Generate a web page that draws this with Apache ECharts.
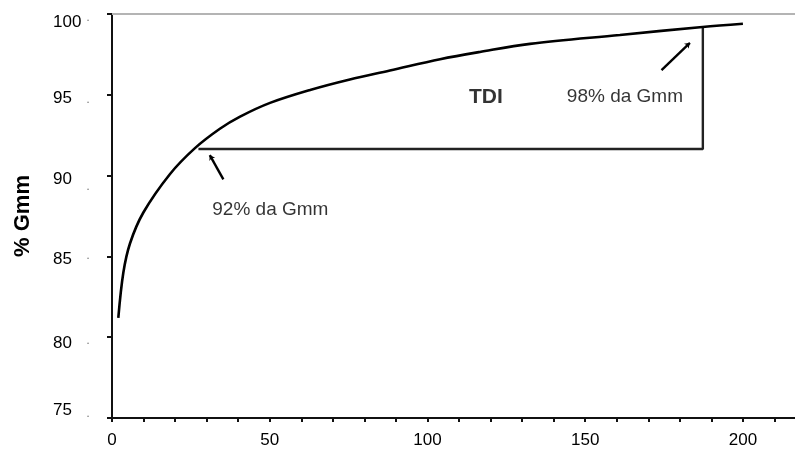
<!DOCTYPE html>
<html>
<head>
<meta charset="utf-8">
<script src="https://cdn.jsdelivr.net/npm/echarts@6/dist/echarts.min.js"></script>
<style>html,body{margin:0;padding:0;background:#fff}#c{width:795px;height:452px}</style>
</head>
<body>
<div id="c"></div>
<script>
// Compaction curve (% Gmm vs number of gyrations)
var curveX = [2, 3.6, 5.7, 9.9, 18.4, 26.3, 34.2, 40.6, 50.1, 62.8, 75.4, 88.1, 104, 116.6, 132.5, 161, 187.2, 200];
var curveY = [81.2, 84.0, 85.8, 87.7, 90.1, 91.7, 92.9, 93.65, 94.5, 95.3, 95.95, 96.5, 97.2, 97.65, 98.15, 98.7, 99.2, 99.4];
// TDI bracket (92% -> 98%)
var bracketX = [27.4, 187.3, 187.3];
var bracketY = [91.65, 91.65, 99.2];
// arrows [fromX, fromY, toX, toY]
var arrow92 = [35.3, 89.77, 31.0, 91.27];
var arrow98 = [174.2, 96.53, 183.2, 98.22];
// annotations
var annoText = ['TDI', '98% da Gmm', '92% da Gmm'];
var annoX = [118.5, 162.6, 50.2];
var annoY = [94.86, 94.86, 87.91];
var annoBold = [true, false, false];
// axis ticks
var yTicks = [75, 80, 85, 90, 95, 100];
var xLabels = [0, 50, 100, 150, 200];

var chart = echarts.init(document.getElementById('c'));
var FONT = 'Liberation Sans';

function zip(a, b) { return a.map(function (v, i) { return [v, b[i]]; }); }
function padFor(s) { return s >= 0 ? [2 * s, 0, 0, 0] : [0, 0, -2 * s, 0]; }

// per-label small vertical shifts seen in the scanned original (label text, gray dot)
var yShift = { 75: -8, 80: 6, 85: 3, 90: 4, 95: 4, 100: 8 };
var dotShift = { 75: -2, 80: 6, 85: 2, 90: 14, 95: 8, 100: 6 };
var yRich = {};
yTicks.forEach(function (t) {
  yRich['v' + t] = { fontSize: 17, color: '#000', fontFamily: FONT, width: 34, align: 'left', padding: padFor(yShift[t]) };
  yRich['d' + t] = { fontSize: 6, color: '#888', fontFamily: FONT, padding: padFor(dotShift[t]) };
});

var option = {
  animation: false,
  grid: { left: 112, top: 14, bottom: 34, width: 694, containLabel: false, outerBoundsMode: 'none' },
  xAxis: [{
    type: 'value', min: 0, max: 220, interval: 10, position: 'bottom',
    axisLine: { lineStyle: { color: '#111', width: 2 } },
    axisTick: { show: true, length: 4, inside: false, lineStyle: { color: '#111', width: 2 } },
    axisLabel: {
      margin: 14, fontSize: 17, color: '#000', fontFamily: FONT,
      formatter: function (v) { return xLabels.indexOf(v) >= 0 ? String(v) : ''; }
    },
    splitLine: { show: false }
  }, {
    type: 'value', min: 0, max: 220, position: 'top',
    axisLine: { show: true, lineStyle: { color: '#b4b4b4', width: 2 } },
    axisTick: { show: false }, axisLabel: { show: false }, splitLine: { show: false }
  }],
  yAxis: {
    type: 'value', min: 75, max: 100, interval: 5,
    name: '% Gmm', nameLocation: 'middle', nameGap: 78, nameRotate: 90,
    nameTextStyle: { fontSize: 22, fontWeight: 'bold', color: '#000', fontFamily: FONT },
    axisLine: { show: true, lineStyle: { color: '#111', width: 2 } },
    axisTick: { show: true, length: 5, lineStyle: { color: '#111', width: 2 } },
    axisLabel: {
      margin: 59, align: 'left',
      formatter: function (v) { return yTicks.indexOf(v) >= 0 ? '{v' + v + '|' + v + '}{d' + v + '|•}' : ''; },
      rich: yRich
    },
    splitLine: { show: false }
  },
  series: [{
    type: 'line', data: zip(curveX, curveY), smooth: 0.35, showSymbol: false,
    lineStyle: { color: '#000', width: 2.6 }, z: 5
  }, {
    type: 'line', data: zip(bracketX, bracketY), showSymbol: false,
    lineStyle: { color: '#222', width: 2.4 }, z: 4
  }, {
    type: 'lines', coordinateSystem: 'cartesian2d', z: 6,
    symbol: ['none', 'arrow'], symbolSize: 5,
    lineStyle: { color: '#000', width: 2.4, opacity: 1 },
    data: [
      { coords: [[arrow92[0], arrow92[1]], [arrow92[2], arrow92[3]]] },
      { coords: [[arrow98[0], arrow98[1]], [arrow98[2], arrow98[3]]] }
    ]
  }, {
    type: 'scatter', symbolSize: 0, z: 7,
    data: annoText.map(function (t, i) {
      return {
        value: [annoX[i], annoY[i]],
        label: {
          show: true, position: 'inside', formatter: t,
          fontFamily: FONT, color: '#000',
          fontSize: annoBold[i] ? 21 : 19,
          fontWeight: annoBold[i] ? 'bold' : 'normal'
        }
      };
    })
  }]
};
chart.setOption(option);
</script>
</body>
</html>
